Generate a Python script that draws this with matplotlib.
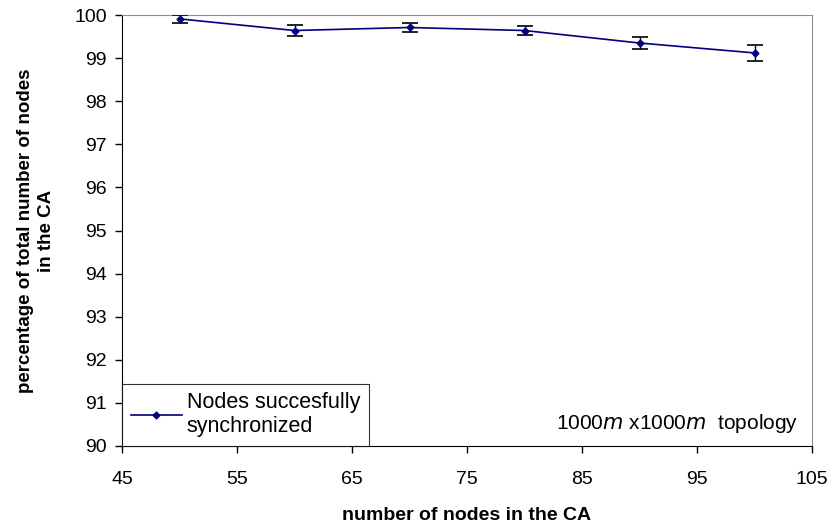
import matplotlib
matplotlib.use("Agg")
import matplotlib.pyplot as plt
from matplotlib.lines import Line2D

nodes = [50, 60, 70, 80, 90, 100]
pct = [99.91, 99.64, 99.71, 99.64, 99.35, 99.12]
err = [0.10, 0.13, 0.10, 0.10, 0.15, 0.18]
xticks = [45, 55, 65, 75, 85, 95, 105]
yticks = list(range(90, 101))

plt.rcParams['font.family'] = ['Liberation Sans', 'DejaVu Sans']

fig = plt.figure(figsize=(8.35, 5.29), dpi=100)
ax = fig.add_axes([122/835, 1 - 446/529, (812-122)/835, (446-15)/529])

ax.errorbar(nodes, pct, yerr=err, color='#000080', lw=1.2, marker='D', ms=3.5,
            ecolor='black', elinewidth=1.0, capsize=6, capthick=1.2,
            zorder=3)

ax.set_xlim(45, 105)
ax.set_ylim(90, 100)
ax.set_xticks(xticks)
ax.set_yticks(yticks)
ax.tick_params(labelsize=14, length=5, direction='out', width=1)
ax.tick_params(axis='x', pad=13)
ax.tick_params(axis='y', pad=6)
for s in ['top', 'right']:
    ax.spines[s].set_color('#909090')
for s in ['left', 'bottom']:
    ax.spines[s].set_color('black')

ax.set_xlabel('number of nodes in the CA', fontsize=14, fontweight='bold')
ax.xaxis.set_label_coords(0.5, -(529 - 446 - 5) / 431, transform=ax.transAxes)
ax.xaxis.label.set_va('bottom')
ax.set_ylabel('percentage of total number of nodes\nin the CA', fontsize=13.5,
              fontweight='bold', labelpad=14, linespacing=1.3)

h = Line2D([], [], color='#000080', lw=1.2, marker='D', ms=3.5)
leg = ax.legend([h], ['Nodes succesfully\nsynchronized'], loc='lower left',
                bbox_to_anchor=(0, 0), borderaxespad=0,
                fontsize=15.5, frameon=True, fancybox=False, handlelength=2.4,
                handletextpad=0.2, labelspacing=0.2, borderpad=0.4)
leg.get_frame().set_edgecolor('black')
leg.get_frame().set_linewidth(0.8)

ax.text(0.98, 0.025, r'1000$m$ x1000$m$  topology', transform=ax.transAxes,
        ha='right', va='bottom', fontsize=15)

fig.savefig('out.png', dpi=100)
